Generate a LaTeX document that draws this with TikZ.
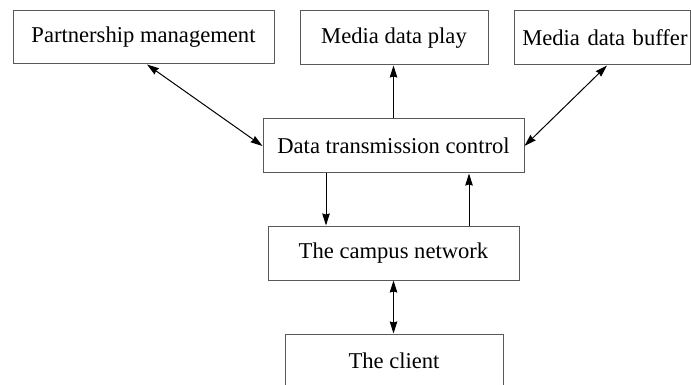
\documentclass[tikz,border=0pt]{standalone}
\usepackage{fontspec}
\setmainfont{Liberation Serif}
\usetikzlibrary{arrows.meta,calc}
\begin{document}
\begin{tikzpicture}[x=1pt,y=-1pt,
  box/.style={draw=black!65,line width=1pt,inner sep=0pt,font=\fontsize{22.6}{26}\selectfont,fill=white},
  conn/.style={line width=1pt,black},
  tip/.tip={Stealth[length=12pt,width=7.5pt,inset=1pt]}]
\useasboundingbox (0,0) rectangle (691,385);
\begin{scope}
\clip (0,0) rectangle (691,385);
\node[box,minimum width=261pt,minimum height=53pt] (pm) at (143.5,37.5) {Partnership management};
\node[box,minimum width=188pt,minimum height=54pt] (mdp) at (394,38) {Media data play};
\node[box,minimum width=176pt,minimum height=54pt,text width=171pt,align=right,inner xsep=2pt] (mdb) at (602,38) {Media data buffer};
\node[box,minimum width=261pt,minimum height=54pt] (dtc) at (393.5,146) {Data transmission control};
\node[box,minimum width=251pt,minimum height=54pt] (cn) at (393.5,253) {The campus network};
\node[box,minimum width=218pt,minimum height=54pt] (cl) at (394,361) {The client};
\draw[conn,tip-tip] ([xshift=3.5pt]pm.south) -- (dtc.west);
\draw[conn,-tip] (dtc.north) -- (dtc.north |- mdp.south);
\draw[conn,tip-tip] ([xshift=5pt]mdb.south) -- (dtc.east);
\coordinate (d1) at ([xshift=-67.5pt]dtc.south);
\draw[conn,-tip] (d1) -- (d1 |- cn.north);
\coordinate (u1) at ([xshift=75.5pt]cn.north);
\draw[conn,-tip] (u1) -- (u1 |- dtc.south);
\draw[conn,tip-tip] (cn.south) -- (cn.south |- cl.north);
\end{scope}
\end{tikzpicture}
\end{document}
